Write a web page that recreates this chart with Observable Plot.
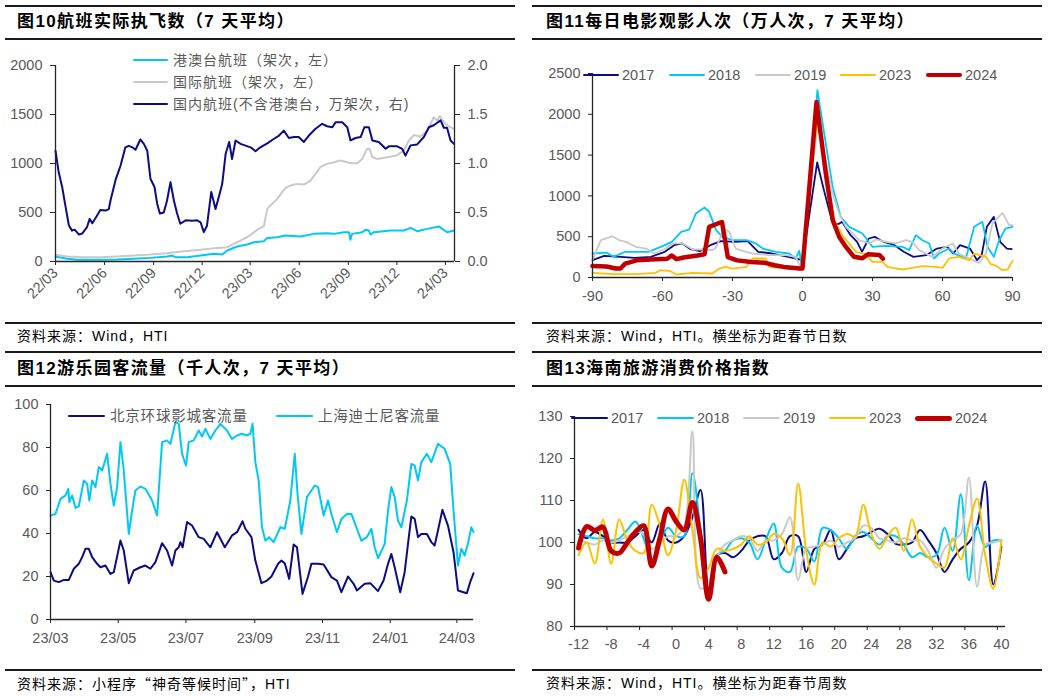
<!DOCTYPE html>
<html><head><meta charset="utf-8">
<script src="https://cdn.jsdelivr.net/npm/d3@7"></script>
<script src="https://cdn.jsdelivr.net/npm/@observablehq/plot@0.6"></script>
<style>
body{margin:0;background:#fff;}
#root{position:relative;width:1050px;height:696px;overflow:hidden;background:#fff;font-family:"Liberation Sans","Noto Sans CJK SC",sans-serif;}
.cjk{font-family:"Noto Sans CJK SC",sans-serif;}
</style></head><body><div id="root"></div>
<script>
// ================= DATA =================
// Panel 1: flights, [days since 2022-03-01, value]
const hkFlights = [[0,51],[22,27],[40.6,17],[84,17],[115.6,20],[147,27],[178,37],[209,51],[218.8,61],[225,44],[247,44],[272,61],[297,78],[312.5,71],[322,112],[340.6,153],[359,173],[372,197],[390.6,207],[397,241],[415.6,248],[431,265],[459,255],[484,282],[509,289],[522,282],[540.6,299],[550,299],[553,221],[556,282],[575,299],[581,323],[587.5,316],[590.6,275],[597,299],[628,316],[653,316],[665.6,343],[678,309],[697,333],[719,357],[725,333],[734,299],[747,316]];
const intlFlights = [[0,68],[22,51],[53,44],[84,44],[115.6,51],[147,61],[178,71],[209,85],[240.6,105],[272,119],[303,139],[322,146],[334,180],[347,214],[365.6,270],[378,323],[390.6,360],[397,537],[406,588],[415.6,639],[425,707],[431,750],[440.6,775],[453,792],[465.6,785],[478,826],[487.5,894],[497,965],[509,996],[522,1013],[534,1030],[547,1013],[553,1003],[565.6,1003],[575,1047],[584,1149],[588.8,1150],[594,1064],[603,1047],[622,1064],[640.6,1085],[653,1132],[662.5,1234],[672,1290],[684,1275],[697,1336],[709,1472],[715.6,1438],[720.6,1485],[728,1421],[737.5,1377],[747,1353]];
const domFlights = [[0,1.13],[6,0.91],[12.5,0.76],[19,0.555],[25,0.37],[31,0.315],[36,0.325],[44,0.275],[50,0.285],[59,0.35],[64,0.435],[69,0.39],[78,0.47],[84,0.525],[94,0.52],[100,0.535],[103,0.62],[112.5,0.83],[122,0.98],[131,1.165],[137.5,1.18],[144,1.165],[150,1.14],[159,1.245],[165.6,1.2],[172,1.13],[178,0.845],[185.6,0.76],[190.6,0.59],[195.6,0.49],[203,0.5],[209,0.62],[215.6,0.81],[222,0.62],[228,0.49],[234,0.385],[244,0.42],[256,0.415],[265.6,0.42],[272,0.4],[278,0.3],[284,0.365],[292,0.71],[300,0.535],[306,0.655],[312.5,0.79],[319,1.1],[325.6,1.22],[331,1.045],[337.5,1.235],[347,1.2],[365.6,1.165],[375,1.125],[384,1.165],[397,1.205],[409,1.25],[419,1.285],[428,1.335],[437.5,1.26],[447,1.27],[456,1.27],[465.6,1.22],[475,1.285],[487.5,1.355],[500,1.405],[509,1.38],[519,1.37],[525,1.42],[537.5,1.42],[547,1.37],[553,1.235],[562.5,1.26],[572,1.27],[579,1.37],[587.5,1.37],[594,1.235],[606,1.22],[619,1.15],[625,1.175],[640.6,1.175],[650,1.15],[656,1.08],[665.6,1.185],[678,1.195],[690.6,1.27],[700,1.37],[709,1.39],[722,1.44],[728,1.365],[734,1.365],[740.6,1.235],[747,1.2]];
const flightNames = ["港澳台航班（架次，左）","国际航班（架次，左）","国内航班(不含港澳台，万架次，右)"];
const flightTickDates = ["2022-03-01","2022-06-01","2022-09-01","2022-12-01","2023-03-01","2023-06-01","2023-09-01","2023-12-01","2024-03-01"];
const flightTickLabels = ["22/03","22/06","22/09","22/12","23/03","23/06","23/09","23/12","24/03"];
const flightLeftTicks = [0,500,1000,1500,2000];
const flightRightTicks = [0,0.5,1,1.5,2];

// Panel 2: movie admissions, [days from Spring Festival, 万人次]
const movieYears = ["2017","2018","2019","2023","2024"];
const movie2017 = [[-90,212],[-85,265],[-78,253],[-72,241],[-65,253],[-59,315],[-55,396],[-51.5,417],[-48,347],[-44,323],[-39.5,396],[-35,445],[-29,437],[-23.5,445],[-19,315],[-13,294],[-6,253],[-1,220],[0,205],[6.3,1410],[9,1090],[12.7,682],[15,650],[17,682],[20.6,519],[23.4,437],[25.5,315],[28.4,478],[31,498],[33.4,457],[35.5,429],[39,404],[43.4,315],[47.6,253],[53,274],[57.6,355],[62,376],[64.6,294],[67.5,396],[71.8,355],[74.8,212],[76.8,274],[79,621],[82,743],[84.7,437],[87.6,355],[89.7,347]];
const movie2018 = [[-90,294],[-84,306],[-81,253],[-76,315],[-66,315],[-59,396],[-56,437],[-52,560],[-48.6,588],[-45.7,784],[-42,858],[-40,805],[-37,580],[-34.3,498],[-30,457],[-24,457],[-20,417],[-17,355],[-11.4,315],[-5.7,294],[-2.9,233],[-1.4,330],[-0.3,130],[6.4,2296],[12.9,1111],[16.4,743],[20,621],[25.7,539],[30,376],[35.7,388],[42.9,376],[45.7,335],[48.6,519],[51.4,457],[54.3,417],[56.4,233],[58.6,294],[62.9,355],[65,294],[70,233],[73.6,621],[77.1,682],[79.3,376],[82,253],[84.3,457],[87,600],[90,621]];
const movie2019 = [[-90,212],[-86.4,457],[-81.4,506],[-78.6,457],[-75.7,437],[-71.4,376],[-67,355],[-63.6,294],[-58.6,355],[-55.7,417],[-51.4,417],[-47,343],[-42.9,343],[-38.6,335],[-37,368],[-35.7,457],[-33.6,600],[-31.4,560],[-28.6,355],[-25.7,327],[-21.4,294],[-14.3,274],[-7,274],[-2.9,253],[-0.3,90],[6.4,1900],[12.9,1029],[15.7,784],[18.6,621],[24.3,457],[28.6,417],[31.4,466],[35.7,437],[40,417],[44.3,457],[47,437],[50,335],[55.7,253],[60,355],[64.3,417],[67,294],[72.9,212],[75.7,180],[78.6,294],[81.4,662],[85.7,792],[88.6,641],[90,641]];
const movie2023 = [[-90,57],[-81,41],[-71,41],[-63,57],[-61,90],[-57,82],[-54,37],[-47,57],[-38.6,49],[-35.7,110],[-33,131],[-30,110],[-24,131],[-21.4,233],[-15.7,233],[-14.3,131],[-5.7,110],[-0.6,98],[6.4,1949],[12.9,743],[17,519],[22.9,315],[27,286],[30,192],[34.3,192],[36.4,131],[38.6,118],[42.9,98],[44.3,106],[47,118],[51.4,139],[57,131],[60,118],[62.9,233],[67,253],[71.4,212],[73.6,294],[78.6,253],[80.7,163],[82.9,147],[85.7,90],[87.9,98],[90,204]];
const movie2024 = [[-90,140],[-84,135],[-80,110],[-78,110],[-76,170],[-71,210],[-65,220],[-58,230],[-56,270],[-54,225],[-51,245],[-45,270],[-42,285],[-40,620],[-36,665],[-34.5,680],[-32,250],[-28,210],[-22,190],[-16,180],[-12,150],[-8,130],[-1,110],[0,110],[6,2150],[10,1275],[13,700],[15.7,500],[18.6,375],[22,255],[25.7,235],[28,285],[33,275],[34.5,230]];
const movieTicksX = [-90,-60,-30,0,30,60,90];
const movieTicksY = [0,500,1000,1500,2000,2500];

// Panel 3: theme parks, [days since 2023-03-01, 千人次]
const parkNames = ["北京环球影城客流量","上海迪士尼客流量"];
const universal = [[0,22],[3,18.1],[7.5,17.4],[12,18.4],[16.5,18.4],[21,23.6],[25.5,25.9],[28.5,29],[31.5,32.9],[34.5,32.9],[37.5,29],[42,25.9],[45,24.3],[49.5,25.1],[54,21.2],[57,22],[63,36.7],[66,32.1],[70.5,16.9],[75,22.8],[81,24.3],[85.5,25.1],[90,23.6],[94.5,26.7],[100.5,35.5],[105,32.1],[109.5,25.1],[112.5,32.1],[115.5,33.6],[117,36],[119,33.6],[123,45.3],[127.5,43.7],[133.5,38.3],[138,37.5],[144,33.6],[150,40.6],[157,33.6],[163.5,39.1],[168,40.6],[173,45.7],[175.5,42.2],[181,38.3],[184.5,27.4],[190,16.9],[195,18.1],[199,20],[205,25.9],[208,27.4],[211,26.2],[215,18.9],[219,34.9],[222,33.6],[227,11.9],[232,20],[235,25.9],[241,25.9],[246,25.6],[253,19.7],[258,18.1],[262,12.7],[268,20],[273,16.6],[276,13.5],[283,16.6],[288,16.9],[295,13.2],[300,18.1],[304,25.9],[307,30.5],[310,24.3],[315,12.7],[319,22],[322,35.2],[325,47.9],[328,46.8],[331,38.3],[334,39.8],[339,39.8],[343,36],[346,34.4],[349,41.4],[353,51],[358,43.7],[363,31.3],[367,13.5],[372,12.7],[375,12.2],[378,17.4],[381,21.5]];
const disney = [[0,48.4],[4.5,49.1],[9,56.1],[13.5,57.7],[16,60.8],[17,54.6],[19.5,57.7],[22.5,51.9],[25.5,52.6],[30,64.7],[33,63.1],[35,55.3],[37.5,64.7],[40.5,61.6],[43.5,70.9],[46.5,69.3],[51,77.1],[54,63.1],[57,53],[60,61.6],[63,82.5],[66,69.3],[70.5,39.8],[73.5,50.7],[76.5,60],[81,61.9],[85.5,60.8],[91.5,55.3],[96,48.4],[100.5,82.5],[105,83.3],[108,81.7],[112.5,91.8],[115.5,91],[118.5,77.1],[122,71.6],[124.5,82.5],[129,83.3],[133.5,87.9],[136.5,85.1],[139.5,88.7],[144,84],[148.5,87.9],[153,91],[159,87.9],[163.5,84],[168,85.6],[172.5,86.4],[177,85.6],[180,86.4],[182,91],[184.5,73.2],[187.5,64.7],[190.5,42.9],[193.5,36.7],[197,38.3],[201,36],[207,42.9],[211,42.2],[216,55.3],[220,77.1],[222.5,58.4],[226,39.8],[231,56.9],[235,60],[238,62.3],[241,61.6],[246,48.4],[250,55.3],[253,49.1],[258,40.6],[262,46.8],[267,49.1],[271,49.1],[276,42.2],[280,36.7],[285,38.3],[289,42.2],[292,33.6],[295,28.5],[301,35.2],[304,50.7],[307,61.6],[310,56.9],[313,46],[316,42.9],[321,55.3],[325,72.4],[328,71.6],[331,64.7],[334,73.2],[339,77.1],[343,73.2],[349,81.7],[355,79.4],[360,72.4],[363,50.7],[367,25.1],[370,32.9],[373,29.8],[376,35.2],[379,42.9],[381,40.6]];
const parkTickDates = ["2023-03-01","2023-05-01","2023-07-01","2023-09-01","2023-11-01","2024-01-01","2024-03-01"];
const parkTickLabels = ["23/03","23/05","23/07","23/09","23/11","24/01","24/03"];
const parkTicksY = [0,20,40,60,80,100];

// Panel 4: Hainan tourism CPI, weeks from Spring Festival
const weeks = [-12,-11,-10,-9,-8,-7,-6,-5,-4,-3,-2,-1,0,1,2,3,4,5,6,7,8,9,10,11,12,13,14,15,16,17,18,19,20,21,22,23,24,25,26,27,28,29,30,31,32,33,34,35,36,37,38,39,40];
const cpiYears = ["2017","2018","2019","2023","2024"];
const cpi2017 = [103,101,102.5,101.5,100,100,100,101.5,103,100,104.5,100.5,100,101.5,106,112.5,89,97,97.5,96.5,98,100.5,101.5,101.5,96,97.5,101.5,101.5,93,98.5,99.5,103,96,98.5,101,101.5,102.5,103.3,102,99.7,99.5,100,103,100.5,97.5,93,96,98.5,100,104,114.5,90,99];
const cpi2018 = [102,101.5,101,101,100.5,101,103,105,101,95.5,100,103.5,101.5,101.5,116.5,103,89,97,98,100.5,101,100,96,100.5,104.5,94,93,99,98.5,95.5,103.5,103,101,98.5,101.5,102.5,101,99.5,101.5,101.5,99.5,96.5,97.5,96.5,97,103.5,98,111.5,91,104,99,100.5,100.5];
const cpi2019 = [100.5,100,99.5,100.5,100,100.5,101.5,102.5,102,98.5,99.5,101.5,101.5,104,126.5,89,90.5,96.5,99.5,100.5,101.5,101,98,100.5,100.5,102,106,91,98.5,99,99.5,100.5,99,100,101,104,103.5,101,100.5,100,101,100.5,100.5,98,94,98.5,100.5,102,115.5,89.5,99.5,100,100.5];
const cpi2023 = [97,100,95,105.5,95,105.5,100.5,98,97.5,109,104,97,103,115,103,91.5,94,98.5,98,98.5,99.5,101.5,99.5,100,102,101,97,114,98,90,100,99,101,102,101.5,109,102,98.5,101.5,103.5,98,105.5,99,96.5,95,94,101,96,104,110.5,97,89,100.5];
const cpi2024 = [98.7,103.8,102.9,103.7,98,97.5,100,102.5,104,94.4,101,108,105,103,109.5,101,86.5,96.5,93];
const cpiTicksX = [-12,-8,-4,0,4,8,12,16,20,24,28,32,36,40];
const cpiTicksY = [80,90,100,110,120,130];

const titles = ["图10航班实际执飞数（7 天平均）","图11每日电影观影人次（万人次，7 天平均）","图12游乐园客流量（千人次，7 天平均）","图13海南旅游消费价格指数"];
const sources = ["资料来源：Wind，HTI","资料来源：Wind，HTI。横坐标为距春节日数","资料来源：小程序<span class=\"cjk\">“</span>神奇等候时间<span class=\"cjk\">”</span>，HTI","资料来源：Wind，HTI。横坐标为距春节周数"];

// ================= STYLE / LAYOUT =================
const C = {navy:"#0c0c84", blue:"#00c8f5", gray:"#c9c9c9", gold:"#ffc000", red:"#c00000"};
const yearColors = [C.navy, C.blue, C.gray, C.gold, C.red];
const AX = "#262626";
const TXT = "#595959";
const DAY = 864e5;
const d22 = d => new Date(Date.UTC(2022,2,1) + d*DAY);
const d23 = d => new Date(Date.UTC(2023,2,1) + d*DAY);
const root = document.getElementById("root");

function add(css, html){ const el=document.createElement("div"); el.style.position="absolute"; Object.assign(el.style, css); if(html!=null) el.innerHTML=html; root.appendChild(el); return el; }
function hrule(x1,x2,y){ add({left:x1+"px",top:(y-0.8)+"px",width:(x2-x1)+"px",height:"1.6px",background:"#1a1a1a"}); }
function title(x,yc,s){ add({left:x+"px",top:(yc-10)+"px",fontSize:"17px",fontWeight:"bold",letterSpacing:"1.4px",lineHeight:"20px",whiteSpace:"nowrap",color:"#000"},s); }
function source(x,yc,s){ add({left:x+"px",top:(yc-8)+"px",fontSize:"14px",letterSpacing:"1px",lineHeight:"16px",whiteSpace:"nowrap",color:"#000"},s); }
function legend(x1,x2,tx,y,color,w,s,size,ls){
  add({left:x1+"px",top:(y-w/2)+"px",width:(x2-x1)+"px",height:w+"px",background:color,borderRadius:(w/2)+"px"});
  add({left:tx+"px",top:(y-9)+"px",fontSize:size+"px",letterSpacing:(ls||0)+"px",lineHeight:"18px",whiteSpace:"nowrap",color:TXT},s);
}
function mount(svg,left,top){ svg.style.position="absolute"; svg.style.left=left+"px"; svg.style.top=top+"px"; root.appendChild(svg); }
const pstyle = {fontSize:"14.5px", fontFamily:"'Liberation Sans', Arial, sans-serif", color:TXT, background:"transparent", overflow:"visible"};
const yAxis = (ticks, fmt, extra={}) => Plot.axisY({ticks, tickFormat:fmt, tickSize:5, tickPadding:8, stroke:AX, label:null, ...extra});

// ----- Panel 1 -----
const fTickMap = new Map(flightTickDates.map((s,i)=>[+new Date(s), flightTickLabels[i]]));
const p1 = Plot.plot({
  width:525, height:300, marginTop:25, marginBottom:79, marginLeft:55, marginRight:71, style:pstyle,
  x:{type:"utc", domain:[d22(0), d22(748)]},
  y:{domain:[0,2000]},
  marks:[
    Plot.line(hkFlights,{x:d=>d22(d[0]), y:d=>d[1], stroke:C.blue, strokeWidth:2}),
    Plot.line(intlFlights,{x:d=>d22(d[0]), y:d=>d[1], stroke:C.gray, strokeWidth:2}),
    Plot.line(domFlights,{x:d=>d22(d[0]), y:d=>d[1]*1000, stroke:C.navy, strokeWidth:2}),
    Plot.ruleY([0],{stroke:AX, strokeWidth:1.3}),
    Plot.ruleX([d22(0)],{stroke:AX, strokeWidth:1.3}),
    Plot.ruleX([d22(748)],{stroke:AX, strokeWidth:1.3}),
    yAxis(flightLeftTicks, d=>String(d)),
    yAxis(flightRightTicks.map(v=>v*1000), d=>(d/1000).toFixed(1), {anchor:"right"}),
    Plot.axisX({ticks:flightTickDates.map(s=>new Date(s)), tickFormat:d=>fTickMap.get(+d), tickRotate:-45, tickSize:4, tickPadding:5, stroke:AX, label:null})
  ]
});
mount(p1,0,40);

// ----- Panel 2 -----
const movieSeries = [movie2017, movie2018, movie2019, movie2023, movie2024];
const p2 = Plot.plot({
  width:525, height:300, marginTop:33, marginBottom:63, marginLeft:67, marginRight:38, style:pstyle,
  x:{domain:[-90,90]}, y:{domain:[0,2500]},
  marks:[
    ...movieSeries.map((s,i)=>Plot.line(s,{x:d=>d[0], y:d=>d[1], stroke:yearColors[i], strokeWidth:i===4?4.5:1.8})),
    Plot.ruleY([0],{stroke:AX, strokeWidth:1.3}),
    Plot.ruleX([-90],{stroke:AX, strokeWidth:1.3}),
    yAxis(movieTicksY, d=>String(d), {tickSize:4}),
    Plot.axisX({ticks:movieTicksX, tickFormat:d=>String(d), tickSize:4, tickPadding:9, stroke:AX, label:null})
  ]
});
mount(p2,525,40);

// ----- Panel 3 -----
const pTickMap = new Map(parkTickDates.map((s,i)=>[+new Date(s), parkTickLabels[i]]));
const p3 = Plot.plot({
  width:525, height:284, marginTop:18, marginBottom:51, marginLeft:50, marginRight:52, style:pstyle,
  x:{type:"utc", domain:[d23(0), d23(381)]}, y:{domain:[0,100]},
  marks:[
    Plot.line(disney,{x:d=>d23(d[0]), y:d=>d[1], stroke:C.blue, strokeWidth:2}),
    Plot.line(universal,{x:d=>d23(d[0]), y:d=>d[1], stroke:C.navy, strokeWidth:2}),
    Plot.ruleY([0],{stroke:AX, strokeWidth:1.3}),
    Plot.ruleX([d23(0)],{stroke:AX, strokeWidth:1.3}),
    yAxis(parkTicksY, d=>String(d), {tickSize:4}),
    Plot.axisX({ticks:parkTickDates.map(s=>new Date(s)), tickFormat:d=>pTickMap.get(+d), tickSize:4, tickPadding:9, stroke:AX, label:null})
  ]
});
mount(p3,0,386);

// ----- Panel 4 -----
const cpiSeries = [cpi2017, cpi2018, cpi2019, cpi2023, cpi2024];
const p4 = Plot.plot({
  width:525, height:284, marginTop:30, marginBottom:44, marginLeft:49, marginRight:45, style:pstyle,
  x:{domain:[-12.5,40.5]}, y:{domain:[80,130]},
  marks:[
    ...cpiSeries.map((s,i)=>Plot.line(s.map((v,j)=>[weeks[j],v]),{x:d=>d[0], y:d=>d[1], stroke:yearColors[i], strokeWidth:i===4?5:2, curve:"catmull-rom"})),
    Plot.ruleY([80],{stroke:AX, strokeWidth:1.3}),
    Plot.ruleX([-12.5],{stroke:AX, strokeWidth:1.3}),
    yAxis(cpiTicksY, d=>String(d), {tickSize:4}),
    Plot.axisX({ticks:cpiTicksX.map(w=>w-0.5), tickFormat:()=>"", tickSize:4, stroke:AX, label:null}),
    Plot.axisX({ticks:cpiTicksX, tickFormat:d=>String(d), tickSize:0, tickPadding:12, label:null})
  ]
});
mount(p4,525,386);

// ----- Titles, rules, sources -----
[[5,515],[532,1042]].forEach(([a,b])=>{ [6,39,323,352,386,670].forEach(y=>hrule(a,b,y)); });
title(17,22,titles[0]); title(546,22,titles[1]); title(17,369,titles[2]); title(546,369,titles[3]);
source(17,336,sources[0]); source(546,336,sources[1]); source(17,683,sources[2]); source(546,683,sources[3]);

// ----- Legends -----
[[60,C.blue],[82,C.gray],[104,C.navy]].forEach(([y,c],i)=>legend(133,168,173,y,c,2,flightNames[i],14,1));
[583,669,755,840,926].forEach((x,i)=>legend(x,x+36,x+39,75,yearColors[i],i===4?4.5:2,movieYears[i],14.5));
legend(68,105,110,416,C.navy,2,parkNames[0],14.5,0.8);
legend(276,313,318,416,C.blue,2,parkNames[1],14.5,0.8);
[571,657,743,829,915].forEach((x,i)=>legend(x,x+37,x+40,418,yearColors[i],i===4?5:2,cpiYears[i],14.5));
</script></body></html>
